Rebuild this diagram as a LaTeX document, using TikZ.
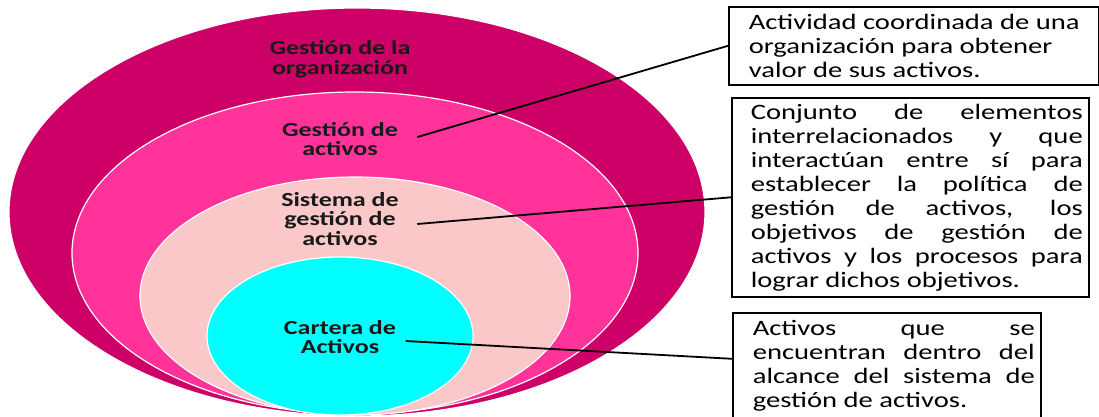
\documentclass[tikz,border=0pt]{standalone}
\usepackage{fontspec}
\setmainfont{Carlito}[FakeStretch=1.3]
\usetikzlibrary{shapes.geometric}
\definecolor{orgcol}{HTML}{CC0066}
\definecolor{actcol}{HTML}{FF3399}
\definecolor{siscol}{HTML}{FAC8C8}
\definecolor{carcol}{HTML}{00FFFF}
\tikzset{
  ring/.style={ellipse,draw=white,line width=1.2pt,inner sep=0pt},
  ringlabel/.style={font=\fontsize{20}{19.5}\selectfont\bfseries,align=center,text=black!90},
  defbox/.style={draw,line width=1.6pt,inner xsep=6pt,anchor=north west,font=\fontsize{22}{24}\selectfont},
  link/.style={line width=1.8pt}
}
\begin{document}
\begin{tikzpicture}[x=1pt,y=-1pt]
\useasboundingbox (0,0) rectangle (1099,416);
\clip (0,0) rectangle (1099,416);
% nested ellipses
\node[ring,fill=orgcol,minimum width=696pt,minimum height=408pt] (orgell) at (357,212) {};
\node[ring,fill=actcol,minimum width=566pt,minimum height=322pt] (actell) at (355,253) {};
\node[ring,fill=siscol,minimum width=430pt,minimum height=238pt] (sisell) at (355,296) {};
\node[ring,fill=carcol,minimum width=266pt,minimum height=158pt] (carell) at (340,336) {};
\node[ringlabel] (orglabel) at (340,59) {Gestión de la\\organización};
\node[ringlabel] (actlabel) at (340,139) {Gestión de\\activos};
\node[ringlabel] (sislabel) at (340,219) {Sistema de\\gestión de\\activos};
\node[ringlabel] (carlabel) at (340,337) {Cartera de\\Activos};
% definitions
\node[defbox,minimum height=78pt] (defact) at (728,6)
  {\hspace*{14pt}\parbox{344pt}{\raggedright Actividad coordinada de una\\organización para obtener\\valor de sus activos.}};
\node[defbox,minimum height=199pt] (defsis) at (731,97)
  {\hspace*{13pt}\parbox{332pt}{Conjunto de elementos\linebreak interrelacionados y que\linebreak
   interactúan entre sí para\linebreak establecer la política de\linebreak
   gestión de activos, los\linebreak objetivos de gestión de\linebreak
   activos y los procesos para\linebreak lograr dichos objetivos.}};
\node[defbox,minimum height=106pt] (defcar) at (732,312)
  {\hspace*{14pt}\parbox{282pt}{Activos que se\linebreak encuentran dentro del\linebreak
   alcance del sistema de\linebreak gestión de activos.}};
\draw[link] ([xshift=16pt,yshift=2pt]actlabel.east) -- (defact.west);
\draw[link] ([xshift=15pt,yshift=-5pt]sislabel.east) -- (defsis.west);
\draw[link] ([xshift=6pt,yshift=-4pt]carlabel.east) -- ([yshift=7pt]defcar.west);
\end{tikzpicture}
\end{document}
